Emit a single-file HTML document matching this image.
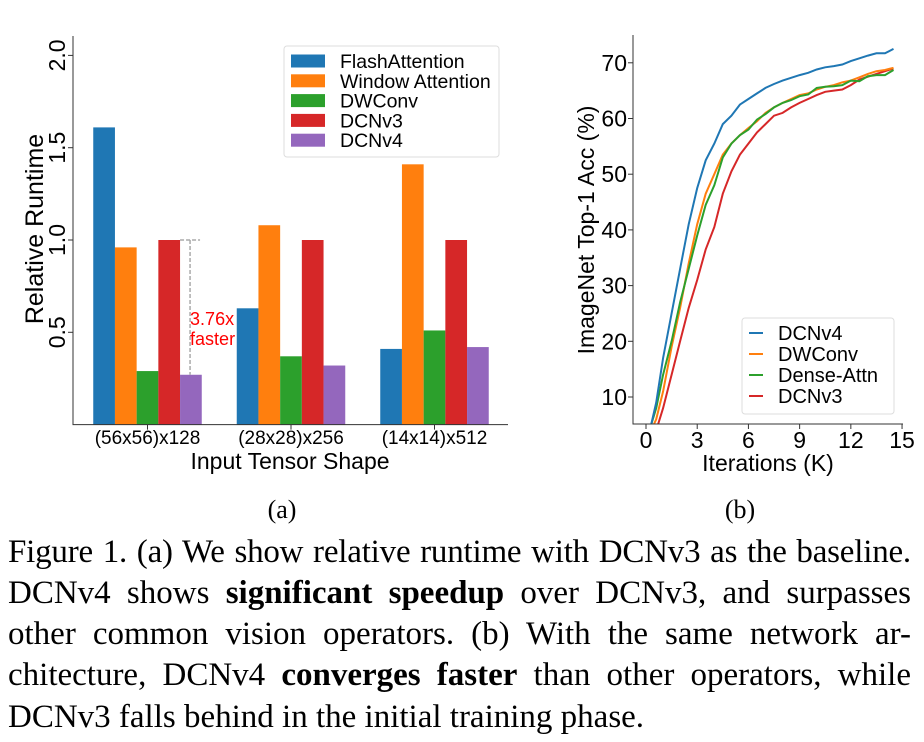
<!DOCTYPE html>
<html><head><meta charset="utf-8"><style>
body{margin:0;background:#fff;width:924px;height:742px;overflow:hidden;position:relative;font-family:"Liberation Sans","DejaVu Sans",sans-serif}
svg{position:absolute;left:0;top:0}
.cap{position:absolute;left:8px;width:903px;font-family:"Liberation Serif",serif;font-size:33px;line-height:41px;text-align:justify;text-align-last:justify;white-space:nowrap;color:#000}
.cap.last{text-align-last:left}
</style></head><body>
<svg id="chart" width="924" height="742"></svg>
<div class="cap" style="top:532px;letter-spacing:-0.2px">Figure 1. (a) We show relative runtime with DCNv3 as the baseline.</div>
<div class="cap" style="top:573px">DCNv4 shows <b>significant speedup</b> over DCNv3, and surpasses</div>
<div class="cap" style="top:614px">other common vision operators. (b) With the same network ar-</div>
<div class="cap" style="top:655px">chitecture, DCNv4 <b>converges faster</b> than other operators, while</div>
<div class="cap last" style="top:697px">DCNv3 falls behind in the initial training phase.</div>
<script>
const groups=["(56x56)x128","(28x28)x256","(14x14)x512"];
const barSeries=["FlashAttention","Window Attention","DWConv","DCNv3","DCNv4"];
const flashVals=[1.61,0.63,0.41];
const windowVals=[0.96,1.08,1.41];
const dwconvVals=[0.29,0.37,0.51];
const dcnv3Vals=[1.0,1.0,1.0];
const dcnv4Vals=[0.27,0.32,0.42];
const yTicksA=[0.5,1.0,1.5,2.0];
const iters=[0.3,0.6,1,1.5,2,2.5,3,3.5,4,4.5,5,5.5,6,6.5,7,7.5,8,8.5,9,9.5,10,10.5,11,11.5,12,12.5,13,13.5,14,14.5];
const accDCNv4=[5,9,17,25,33,41,47.5,52.5,55.5,59,60.5,62.5,63.5,64.5,65.5,66.2,66.8,67.3,67.8,68.2,68.8,69.2,69.4,69.7,70.3,70.8,71.3,71.7,71.7,72.5];
const accDWConv=[4,6,11,19,26,34,41,46.5,50,53.5,55.5,57,58.3,59.5,61,62,62.8,63.5,64.2,64.5,65.2,65.7,66,66.5,66.8,67.4,68,68.5,68.7,69.1];
const accDense=[5,8,14,20,27,33,39,44.5,48,53,55.5,57,58,59.8,60.8,62,62.8,63.3,64,64.3,65.5,65.7,65.8,66,66.8,66.7,67.6,67.8,67.8,68.7];
const accDCNv3=[1,4,8,14,20,26,31,36.5,40.5,46.5,50.5,53.5,55.5,57.5,59,60.5,61,62,62.8,63.5,64.2,64.8,65,65.2,66,67,67.5,68,68.5,69];
const xTicksB=[0,3,6,9,12,15];
const yTicksB=[10,20,30,40,50,60,70];

const svg=document.getElementById('chart');
const NS='http://www.w3.org/2000/svg';
function mk(tag,attrs,parent){const e=document.createElementNS(NS,tag);for(const k in attrs)e.setAttribute(k,attrs[k]);(parent||svg).appendChild(e);return e;}
const colors=['#1f77b4','#ff7f0e','#2ca02c','#d62728','#9467bd'];

// ---- chart a ----
const aL=73,aR=508,aB=424.6,aT=36;
const ya=v=>aB-v*184.6;
const gx=i=>147.5+i*143.5;
const bw=21.7;
const allVals=[flashVals,windowVals,dwconvVals,dcnv3Vals,dcnv4Vals];
allVals.forEach((vals,s)=>{vals.forEach((v,i)=>{
  const r=mk('rect',{x:gx(i)-2.5*bw+s*bw,y:ya(v),width:bw,height:aB-ya(v),fill:colors[s]});
  
  
});});
let ax=mk('path',{d:`M${aL} ${aT}V${aB}H${aR}`,stroke:'#333',fill:'none','stroke-width':1});

yTicksA.forEach(t=>{
  mk('line',{x1:aL-5,x2:aL,y1:ya(t),y2:ya(t),stroke:'#333'});
  const tx=mk('text',{x:0,y:0,transform:`translate(65,${ya(t)}) rotate(-90)`,'text-anchor':'middle','font-size':23,fill:'#000'});
  tx.textContent=t.toFixed(1);
  
});
groups.forEach((g,i)=>{
  mk('line',{x1:gx(i),x2:gx(i),y1:aB,y2:aB+5,stroke:'#333'});
  const t=mk('text',{x:gx(i),y:444,'text-anchor':'middle','font-size':19});t.textContent=g;
  
});
let t=mk('text',{x:290,y:469,'text-anchor':'middle','font-size':23});t.textContent='Input Tensor Shape';

t=mk('text',{x:0,y:0,transform:'translate(43,229) rotate(-90)','text-anchor':'middle','font-size':25});t.textContent='Relative Runtime';

// annotation
const x5=gx(0)+1.5*bw;
mk('path',{d:`M${x5} ${ya(dcnv3Vals[0])}H${x5+20}M${x5+10} ${ya(dcnv3Vals[0])}V${ya(dcnv4Vals[0])}`,stroke:'#aaa','stroke-dasharray':'4,2',fill:'none','stroke-width':1.5});
t=mk('text',{x:x5+10,y:325,'font-size':18,fill:'red'});t.textContent='3.76x';

t=mk('text',{x:x5+10,y:345,'font-size':18,fill:'red'});t.textContent='faster';
// legend a
let lg=mk('g',{});
mk('rect',{x:284,y:46,width:215,height:111,rx:3,fill:'#fff',stroke:'#ddd'},lg);
barSeries.forEach((s,i)=>{
  const cy=61+i*19.8;
  mk('rect',{x:291,y:cy-6.5,width:34,height:13,fill:colors[i]},lg);
  const e=mk('text',{x:340,y:cy+7,'font-size':19.5},lg);e.textContent=s;
  
});

// ---- chart b ----
const bL=633,bR=903,bB=424,bT=35;
const xb=v=>646+v*17.07;
const yb=v=>397-(v-10)*5.57;
const cp=mk('clipPath',{id:'cb'});
mk('rect',{x:bL,y:bT,width:bR-bL,height:bB-bT},cp);
const lineSeries=[["DCNv4",accDCNv4,colors[0]],["DWConv",accDWConv,colors[1]],["Dense-Attn",accDense,colors[2]],["DCNv3",accDCNv3,colors[3]]];
[3,1,2,0].forEach(k=>{
  const [n,vals,c]=lineSeries[k];
  const p=mk('path',{d:vals.map((v,i)=>(i?'L':'M')+xb(iters[i]).toFixed(1)+' '+yb(v).toFixed(1)).join(''),stroke:c,fill:'none','stroke-width':2,'clip-path':'url(#cb)'});
  
});
ax=mk('path',{d:`M${bL} ${bT}V${bB}H${bR}`,stroke:'#333',fill:'none'});

yTicksB.forEach(v=>{
  mk('line',{x1:bL-5,x2:bL,y1:yb(v),y2:yb(v),stroke:'#333'});
  const e=mk('text',{x:627,y:yb(v)+8,'text-anchor':'end','font-size':23});e.textContent=v;
  
});
xTicksB.forEach(v=>{
  mk('line',{x1:xb(v),x2:xb(v),y1:bB,y2:bB+5,stroke:'#333'});
  const e=mk('text',{x:xb(v),y:448,'text-anchor':'middle','font-size':23});e.textContent=v;
  
});
t=mk('text',{x:768,y:471,'text-anchor':'middle','font-size':23});t.textContent='Iterations (K)';

t=mk('text',{x:0,y:0,transform:'translate(594,230) rotate(-90)','text-anchor':'middle','font-size':23});t.textContent='ImageNet Top-1 Acc (%)';

lg=mk('g',{});
mk('rect',{x:742,y:318,width:152,height:96,rx:3,fill:'#fff',stroke:'#ddd'},lg);
lineSeries.forEach(([n,v,c],i)=>{
  const cy=333+i*21;
  mk('line',{x1:749,x2:763,y1:cy,y2:cy,stroke:c,'stroke-width':2},lg);
  const e=mk('text',{x:778,y:cy+7,'font-size':20},lg);e.textContent=n;
  
});
// subfig labels
t=mk('text',{x:282,y:518,'text-anchor':'middle','font-size':26,'font-family':'Liberation Serif, serif'});t.textContent='(a)';

t=mk('text',{x:740,y:518,'text-anchor':'middle','font-size':26,'font-family':'Liberation Serif, serif'});t.textContent='(b)';

</script>
</body></html>
